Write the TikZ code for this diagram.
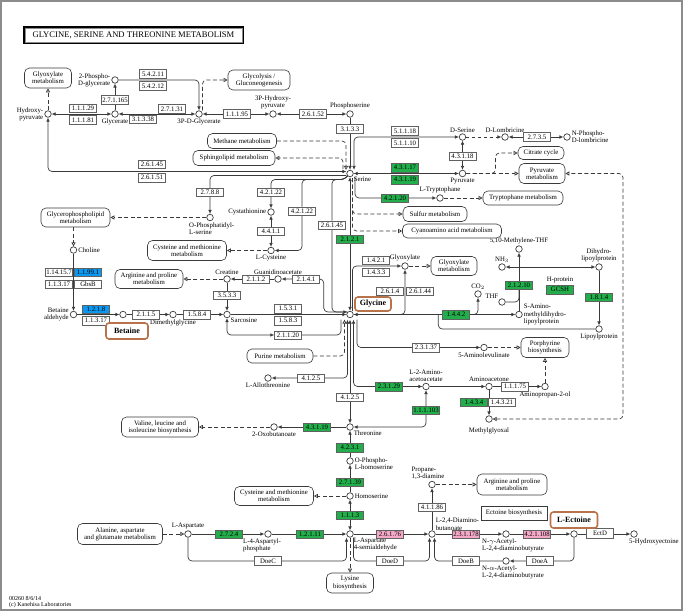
\documentclass[tikz,border=0pt]{standalone}
\usepackage{fontspec}
\setmainfont{Liberation Serif}
\usetikzlibrary{arrows.meta,positioning,backgrounds}
\definecolor{KeggGreen}{HTML}{21AE4B}
\definecolor{KeggBlue}{HTML}{0A98F0}
\definecolor{KeggPink}{HTML}{F5A8C8}
\definecolor{KeggBrown}{HTML}{B8734A}
\definecolor{KeggLine}{HTML}{3A3A3A}
\definecolor{KeggFrame}{HTML}{8C8C8C}
\newcommand{\keggfont}{\fontsize{6.8}{7.2}\selectfont}
\newcommand{\keggbig}{\fontsize{8}{9}\selectfont\bfseries}

\begin{document}
\begin{tikzpicture}[
    x=1pt,y=-1pt,
    cpd/.style={circle,draw=KeggLine,fill=white,line width=.7pt,inner sep=0pt,minimum size=6.5pt},
    lbl/.style={font=\keggfont,inner sep=1pt,align=center},
    ec/.style={draw=KeggLine!80,fill=white,line width=.5pt,minimum width=27pt,minimum height=8.5pt,
      inner sep=0pt,font=\keggfont},
    ecg/.style={ec,fill=KeggGreen},
    ecb/.style={ec,fill=KeggBlue},
    ecp/.style={ec,fill=KeggPink},
    mapbox/.style={draw=KeggLine,rounded corners=5pt,line width=.6pt,fill=white,font=\keggfont,
      align=center,inner sep=1pt},
    hl/.style={draw=KeggBrown,line width=1.6pt,rounded corners=3pt,fill=white,font=\keggbig,inner sep=1.5pt},
    conn/.style={draw=KeggLine,line width=.7pt},
    arrow/.style={conn,-{Latex[length=4pt,width=3.6pt]}},
    both/.style={conn,{Latex[length=4pt,width=3.6pt]}-{Latex[length=4pt,width=3.6pt]}},
    dasharrow/.style={conn,dashed,-{Latex[length=4pt,width=3.6pt]}},
    link/.style={conn,dash pattern=on 4pt off 2.5pt,-{Triangle[open,length=4pt,width=4pt]}},
    link2/.style={conn,dash pattern=on 4pt off 2.5pt,
      {Triangle[open,length=4pt,width=4pt]}-{Triangle[open,length=4pt,width=4pt]}},
    rc/.style={rounded corners=4pt}
  ]
    \useasboundingbox (0,0) rectangle (685,615);
    \node[draw=black,line width=1.3pt,minimum width=219pt,minimum height=16pt,inner sep=0pt,
      font=\fontsize{8.6}{9}\selectfont] (title) at (133.5,35) {GLYCINE, SERINE AND THREONINE METABOLISM};
    \draw[KeggFrame,line width=.4pt] ([shift={(1.6,1.6)}]title.north west) rectangle ([shift={(-1.6,-1.6)}]title.south east);

    % compounds
    \node[cpd,label={[lbl,align=right]left:2-Phospho-\\D-glycerate}] (p2g) at (115,80) {};
    \node[cpd,label={[lbl]below:Glycerate}] (glyc) at (115,114) {};
    \node[cpd,label={[lbl,align=right]left:Hydroxy-\\pyruvate}] (hpyr) at (48,114) {};
    \node[cpd,label={[lbl]below:3P-D-Glycerate}] (p3g) at (199,114) {};
    \node[cpd,label={[lbl]above:3P-Hydroxy-\\pyruvate}] (p3hp) at (273,114) {};
    \node[cpd,label={[lbl]above:Phosphoserine}] (pser) at (350,114) {};
    \node[cpd,label={[lbl]below right:Serine}] (ser) at (350,173.5) {};
    \node[cpd,label={[lbl]above:D-Serine}] (dser) at (462.5,137) {};
    \node[cpd,label={[lbl]above:D-Lombricine}] (dlom) at (505,137) {};
    \node[cpd,label={[lbl,align=left]right:N-Phospho-\\D-lombricine}] (pdlom) at (567,137) {};
    \node[cpd,label={[lbl]below:Pyruvate}] (pyr) at (462.5,173.5) {};
    \node[cpd,label={[lbl]above:L-Tryptophane}] (trp) at (440,198) {};
    \node[cpd,label={[lbl,align=left,anchor=north west,xshift=-22pt]below:O-Phosphatidyl-\\L-serine}] (ops) at (210,217.5) {};
    \node[cpd,label={[lbl]right:Choline}] (chol) at (73.5,250) {};
    \node[cpd,label={[lbl]left:Cystathionine}] (cysta) at (271,212) {};
    \node[cpd,label={[lbl]below:L-Cysteine}] (cys) at (271,250.5) {};
    \node[cpd,label={[lbl]above:Creatine}] (crea) at (227,279) {};
    \node[cpd,label={[lbl]above:Guanidinoacetate}] (gaa) at (278,279) {};
    \node[cpd,label={[lbl,align=right]left:Betaine\\aldehyde}] (bald) at (73.5,314.5) {};
    \node[cpd] (bet) at (123,314.5) {};
    \node[cpd,label={[lbl]below:Dimethylglycine}] (dmg) at (173,314.5) {};
    \node[cpd,label={[lbl]below right:Sarcosine}] (sar) at (227,314.5) {};
    \node[cpd] (gly) at (350,314.5) {};
    \node[cpd,label={[lbl]above:Glyoxylate}] (glx) at (405,266) {};
    \node[cpd,label={[lbl]above:5,10-Methylene-THF}] (mthf) at (519,249) {};
    \node[cpd,label={[lbl]above:NH$_3$}] (nh3) at (502,267) {};
    \node[cpd,label={[lbl]above:Dihydro-\\lipoylprotein}] (dhlp) at (599,267) {};
    \node[cpd,label={[lbl]above:CO$_2$}] (co2) at (478,294) {};
    \node[cpd,label={[lbl]above left:THF}] (thf) at (502,302) {};
    \node[cpd,label={[lbl,align=left]right:S-Amino-\\methyldihydro-\\lipoylprotein}] (samlp) at (519,314.5) {};
    \node[cpd,label={[lbl]below:Lipoylprotein}] (lp) at (599,329) {};
    \node[cpd,label={[lbl]below:5-Aminolevulinate}] (ala) at (484,347.5) {};
    \node[cpd,label={[lbl]above:L-2-Amino-\\acetoacetate}] (aact) at (426,386.5) {};
    \node[cpd,label={[lbl]above:Aminoacetone}] (amac) at (489,386.5) {};
    \node[cpd,label={[lbl]below:Aminopropan-2-ol}] (amp) at (545,386.5) {};
    \node[cpd,label={[lbl,yshift=-4pt]below:Methylglyoxal}] (mgx) at (489,419) {};
    \node[cpd,label={[lbl]below:L-Allothreonine}] (athr) at (268,378) {};
    \node[cpd,label={[lbl]below right:Threonine}] (thr) at (350,427) {};
    \node[cpd,label={[lbl]below:2-Oxobutanoate}] (oxb) at (274,427) {};
    \node[cpd,label={[lbl,align=left,yshift=-3pt]right:O-Phospho-\\L-homoserine}] (phser) at (350,461) {};
    \node[cpd,label={[lbl]right:Homoserine}] (hser) at (350,496) {};
    \node[cpd,label={[lbl]above:L-Aspartate}] (asp) at (188,534) {};
    \node[cpd,label={[lbl,align=left,xshift=-6pt]below:L-4-Aspartyl-\\phosphate}] (asppp) at (268,534) {};
    \node[cpd,label={[lbl,align=left]below right:L-Aspartate\\4-semialdehyde}] (asa) at (350,534) {};
    \node[cpd,label={[lbl,align=left]above right:L-2,4-Diamino-\\butanoate}] (dab) at (432,534) {};
    \node[cpd,label={[lbl,align=left,xshift=-4pt]above:Propane-\\1,3-diamine}] (pda) at (432,484.5) {};
    \node[cpd,label={[lbl,align=left,xshift=7pt]below:N-$\gamma$-Acetyl-\\L-2,4-diaminobutyrate}] (gdab) at (506,534) {};
    \node[cpd] (ect) at (574,534) {};
    \node[cpd,label={[lbl,anchor=north west,xshift=-6pt]below:5-Hydroxyectoine}] (hect) at (634,534) {};
    \node[cpd,label={[lbl,align=left,xshift=7pt]below:N-$\alpha$-Acetyl-\\L-2,4-diaminobutyrate}] (adab) at (506,561) {};

    % pathway maps
    \node[mapbox,minimum width=47pt,minimum height=20pt] (mglx1) at (48,78) {Glyoxylate\\metabolism};
    \node[mapbox,minimum width=62pt,minimum height=20pt] (mglyco) at (259,80) {Glycolysis /\\Gluconeogenesis};
    \node[mapbox,minimum width=69pt,minimum height=15pt] (mmeth) at (242,141) {Methane metabolism};
    \node[mapbox,minimum width=82pt,minimum height=15pt] (msph) at (234,158) {Sphingolipid metabolism};
    \node[mapbox,minimum width=46pt,minimum height=13pt] (mcit) at (541,153) {Citrate cycle};
    \node[mapbox,minimum width=46pt,minimum height=20pt] (mpyr) at (542,173.5) {Pyruvate\\metabolism};
    \node[mapbox,minimum width=80pt,minimum height=14pt] (mtrp) at (523,198) {Tryptophane metabolism};
    \node[mapbox,minimum width=64pt,minimum height=15pt] (msulf) at (435,214) {Sulfur metabolism};
    \node[mapbox,minimum width=99pt,minimum height=14pt] (mcyan) at (452,231) {Cyanoamino acid metabolism};
    \node[mapbox,minimum width=69pt,minimum height=19pt] (mgpl) at (75.5,217.5) {Glycerophospholipid\\metabolism};
    \node[mapbox,minimum width=79pt,minimum height=20pt] (mcys1) at (187,250.5) {Cysteine and methionine\\metabolism};
    \node[mapbox,minimum width=68pt,minimum height=19pt] (marg1) at (149,279) {Arginine and proline\\metabolism};
    \node[mapbox,minimum width=46pt,minimum height=19pt] (mglx2) at (454,266) {Glyoxylate\\metabolism};
    \node[mapbox,minimum width=48pt,minimum height=20pt] (mpor) at (545,347.5) {Porphyrine\\biosynthesis};
    \node[mapbox,minimum width=66pt,minimum height=14pt] (mpur) at (280,356) {Purine metabolism};
    \node[mapbox,minimum width=77pt,minimum height=20pt] (mval) at (160,427) {Valine, leucine and\\isoleucine biosynthesis};
    \node[mapbox,minimum width=79pt,minimum height=19pt] (mcys2) at (274,496) {Cysteine and methionine\\metabolism};
    \node[mapbox,minimum width=70pt,minimum height=21pt] (marg2) at (512,484.5) {Arginine and proline\\metabolism};
    \node[mapbox,minimum width=85pt,minimum height=21pt] (mala) at (120,534) {Alanine, aspartate\\and glutamate metabolism};
    \node[mapbox,minimum width=47pt,minimum height=20pt] (mlys) at (350,583) {Lysine\\biosynthesis};
    \node[mapbox,rounded corners=0pt,minimum width=66pt,minimum height=14pt] (mect) at (514,513) {Ectoine biosynthesis};

    % enzymes
    \node[ec] (e54211) at (153,74) {5.4.2.11};
    \node[ec] (e54212) at (153,86) {5.4.2.12};
    \node[ec] (e27165) at (115,100) {2.7.1.165};
    \node[ec] (e11129) at (83,108.5) {1.1.1.29};
    \node[ec] (e11181) at (83,120) {1.1.1.81};
    \node[ec] (e27131) at (172,109) {2.7.1.31};
    \node[ec] (e31338) at (143,119.5) {3.1.3.38};
    \node[ec] (e11195) at (237,114) {1.1.1.95};
    \node[ec] (e26152) at (313,114) {2.6.1.52};
    \node[ec] (e3133) at (350,129) {3.1.3.3};
    \node[ec] (e51118) at (405,131) {5.1.1.18};
    \node[ec] (e51110) at (405,143) {5.1.1.10};
    \node[ec] (e2735) at (537,137) {2.7.3.5};
    \node[ec] (e43118) at (462.5,156) {4.3.1.18};
    \node[ecg] (e43117) at (405,167.5) {4.3.1.17};
    \node[ecg] (e43119) at (405,179.5) {4.3.1.19};
    \node[ecg] (e42120) at (395,198) {4.2.1.20};
    \node[ec] (e26145a) at (152,164) {2.6.1.45};
    \node[ec] (e26151) at (152,177.5) {2.6.1.51};
    \node[ec] (e2788) at (210,192) {2.7.8.8};
    \node[ec] (e42122a) at (271,192) {4.2.1.22};
    \node[ec] (e4411) at (271,231) {4.4.1.1};
    \node[ec] (e42122b) at (302,211) {4.2.1.22};
    \node[ec] (e26145b) at (332,225) {2.6.1.45};
    \node[ecg] (e2121) at (350,239) {2.1.2.1};
    \node[ec] (e114157) at (59,272) {1.14.15.7};
    \node[ecb] (e11991) at (88,272) {1.1.99.1};
    \node[ec] (e11317a) at (59,284) {1.1.3.17};
    \node[ec] (gbsb) at (88,284) {GbsB};
    \node[ecb] (e1218) at (96,309) {1.2.1.8};
    \node[ec] (e11317b) at (96,320.5) {1.1.3.17};
    \node[ec] (e2115) at (146,314.5) {2.1.1.5};
    \node[ec] (e1584) at (197,314.5) {1.5.8.4};
    \node[ec] (e3533) at (227,295) {3.5.3.3};
    \node[ec] (e2112) at (256,279) {2.1.1.2};
    \node[ec] (e2141) at (306,279) {2.1.4.1};
    \node[ec] (e1531) at (288,308.5) {1.5.3.1};
    \node[ec] (e1583) at (288,320.5) {1.5.8.3};
    \node[ec] (e21120) at (288,335) {2.1.1.20};
    \node[ec] (e1421) at (376,260) {1.4.2.1};
    \node[ec] (e1433) at (376,272) {1.4.3.3};
    \node[ec] (e2614) at (390,291) {2.6.1.4};
    \node[ec] (e26144) at (420,291) {2.6.1.44};
    \node[ecg] (e21210) at (519,285) {2.1.2.10};
    \node[font=\keggfont,inner sep=0pt] (hprot) at (560,280) {H-protein};
    \node[ecg] (gcsh) at (560,289.5) {GCSH};
    \node[ecg] (e1814) at (599,297) {1.8.1.4};
    \node[ecg] (e1442) at (456,314.5) {1.4.4.2};
    \node[ec] (e23137) at (426,347.5) {2.3.1.37};
    \node[ecg] (e23129) at (389,386.5) {2.3.1.29};
    \node[ec] (e111175) at (515,386.5) {1.1.1.75};
    \node[ecg] (e1434) at (474,402) {1.4.3.4};
    \node[ec] (e14321) at (502,402) {1.4.3.21};
    \node[ecg] (e111103) at (426,410) {1.1.1.103};
    \node[ec] (e4125a) at (311,378) {4.1.2.5};
    \node[ec] (e4125b) at (350,397) {4.1.2.5};
    \node[ecg] (e43119b) at (317,427) {4.3.1.19};
    \node[ecg] (e4231) at (350,447.5) {4.2.3.1};
    \node[ecg] (e27139) at (350,482) {2.7.1.39};
    \node[ecg] (e1113) at (350,515) {1.1.1.3};
    \node[ecg] (e2724) at (229,534) {2.7.2.4};
    \node[ecg] (e12111) at (310,534) {1.2.1.11};
    \node[ecp] (e26176) at (390,534) {2.6.1.76};
    \node[ec] (e41186) at (432,507) {4.1.1.86};
    \node[ecp] (e231178) at (466,534) {2.3.1.178};
    \node[ecp] (e421108) at (537,534) {4.2.1.108};
    \node[ec,minimum height=10pt] (ectd) at (600,533.5) {EctD};
    \node[ec,minimum height=9pt] (doec) at (268,561) {DoeC};
    \node[ec,minimum height=9pt] (doed) at (390,561) {DoeD};
    \node[ec,minimum height=9pt] (doeb) at (466,561) {DoeB};
    \node[ec,minimum height=9pt] (doea) at (540,561) {DoeA};

    % highlighted compounds
    \node[hl,minimum width=42pt,minimum height=16pt] (betl) at (127,331) {Betaine};
    \node[hl,minimum width=36pt,minimum height=14pt] (glyl) at (373,304) {Glycine};
    \node[hl,minimum width=47pt,minimum height=16pt] (ectl) at (574,520) {L-Ectoine};

    \node[font=\fontsize{6}{6.5}\selectfont,align=left,anchor=north west,inner sep=0pt] (foot) at (9,596)
      {00260 8/6/14\\(c) Kanehisa Laboratories};

    \coordinate (sj) at (345,179.5);

    \begin{scope}[on background layer]
      \draw[KeggFrame,line width=1.2pt] (1,1) rectangle (682,610);
      % glycerate / serine
      \draw[arrow,rc] (p2g) -| (p3g);
      \draw[arrow] (glyc) -- (p2g);
      \draw[both] (hpyr) -- (glyc);
      \draw[both] (glyc) -- (p3g);
      \draw[both] (p3g) -- (p3hp);
      \draw[both] (p3hp) -- (pser);
      \draw[arrow] (pser) -- (ser);
      \draw[link] (hpyr) -- (mglx1);
      \draw[link,rc] ([xshift=3.5pt]p3g.north) |- (mglyco);
      \draw[link,rc] (mmeth) -| ([xshift=-4pt]ser.north);
      \draw[link,rc] ([xshift=-7pt,yshift=1pt]ser.north) |- (msph);
      \draw[both,rc] (dser) -| ([xshift=4pt]ser.north);
      \draw[both] (ser) -- (pyr);
      \draw[both] (dser) -- (pyr);
      \draw[dasharrow] (dser) -- (dlom);
      \draw[both] (dlom) -- (pdlom);
      \draw[link,rc] (pyr) -- ++(33,0) |- (mcit);
      \draw[link] (pyr) -- (mpyr);
      \draw[link2,rc] (mgx) -- ++(134,0) |- (mpyr);
      \draw[arrow,rc] ([xshift=5pt]ser.south) |- (trp);
      \draw[link] (trp) -- (mtrp);
      \draw[link,rc] ([xshift=2.5pt,yshift=-1pt]ser.south) |- (msulf);
      \draw[link,rc] ([xshift=2.5pt,yshift=-1pt]ser.south) |- (mcyan);
      \draw[both] (ser) -- (gly);
      \draw[arrow,rc] ([yshift=-2pt]ser.west) -| (ops);
      \draw[both,rc] (hpyr) |- ([yshift=2pt]ser.west);
      \draw[arrow,rc] (ser.south west) -- (sj) -| (cysta);
      \draw[arrow,rc] (ser.south west) -- (sj) -| (e42122b) |- (cys);
      \draw[arrow,rc] (ser.south west) -- (sj) -| (e26145b) |- (gly.north west);
      \draw[arrow,rc] (gly.north west) -| ([xshift=4pt]e2141.east) -- (gaa);
      \draw[both] (cysta) -- (cys);
      \draw[link] (cys) -- (mcys1);
      % choline / betaine
      \draw[link] (ops) -- (mgpl);
      \draw[link] (mgpl.south -| chol) -- (chol);
      \draw[arrow] (chol) -- (bald);
      \draw[arrow] (bald) -- (bet);
      \draw[arrow] (bet) -- (dmg);
      \draw[arrow] (dmg) -- (sar);
      \draw[arrow] (crea) -- (sar);
      \draw[link] (crea) -- (marg1);
      \draw[arrow] (gaa) -- (crea);
      \draw[arrow] (sar) -- (gly);
      \draw[both,rc] ([xshift=-9pt,yshift=-1.5pt]gly.south) |- (e21120) -| (sar);
      \draw[link,rc] (mpur) -| ([xshift=-5.5pt,yshift=-1.5pt]gly.south);
      \draw[both,rc] (athr) -| ([xshift=-2.5pt,yshift=-1.5pt]gly.south);
      \draw[both] (thr) -- ([yshift=-1.5pt]gly.south);
      \draw[both,rc] ([xshift=3.5pt,yshift=-1.5pt]gly.south) |- (aact);
      \draw[arrow,rc] ([xshift=7pt,yshift=-1.5pt]gly.south) |- (ala);
      % glycine cleavage
      \draw[arrow,rc] ([xshift=2.5pt]gly.north) |- (glx);
      \draw[link] (glx) -- (mglx2);
      \draw[both,rc] (glx) |- (gly.east);
      \draw[arrow] (gly) -- (samlp);
      \draw[arrow,rc] (e1442.east) -| (co2);
      \draw[conn,rc] (lp) -| ([xshift=-4pt]e1442.west);
      \draw[arrow] (dhlp) -- (lp);
      \draw[arrow] (samlp) -- (mthf);
      \draw[both] (nh3) -- (dhlp);
      \draw[conn,rc] (thf) -| (e21210.south);
      % threonine
      \draw[arrow] (aact) -- (amac);
      \draw[both,rc] (aact) |- (thr);
      \draw[arrow] (amac) -- (amp);
      \draw[link] (amp) -- (mpor);
      \draw[link] (ala) -- (mpor);
      \draw[arrow] (amac) -- (mgx);
      \draw[arrow] (thr) -- (oxb);
      \draw[link] (oxb) -- (mval);
      \draw[arrow] (phser) -- (thr);
      \draw[arrow] (hser) -- (phser);
      \draw[link] (hser) -- (mcys2);
      \draw[both] (asa) -- (hser);
      % aspartate / ectoine
      \draw[link] (mala) -- (asp);
      \draw[arrow] (asp) -- (asppp);
      \draw[arrow] (asppp) -- (asa);
      \draw[arrow,rc] (asp) |- (doec) -| ([xshift=-3.5pt]asa.south);
      \draw[link] (asa) -- (mlys);
      \draw[arrow] (asa) -- (dab);
      \draw[arrow,rc] ([xshift=3.5pt]asa.south) |- (doed) -| ([xshift=-2.5pt]dab.south);
      \draw[arrow] (dab) -- (pda);
      \draw[link] (pda) -- (marg2);
      \draw[arrow] (dab) -- (gdab);
      \draw[arrow] (gdab) -- (ect);
      \draw[arrow] (ect) -- (hect);
      \draw[arrow,rc] (ect) |- (adab);
      \draw[arrow,rc] (adab) -| ([xshift=2.5pt]dab.south);
    \end{scope}
  \end{tikzpicture}
\end{document}
